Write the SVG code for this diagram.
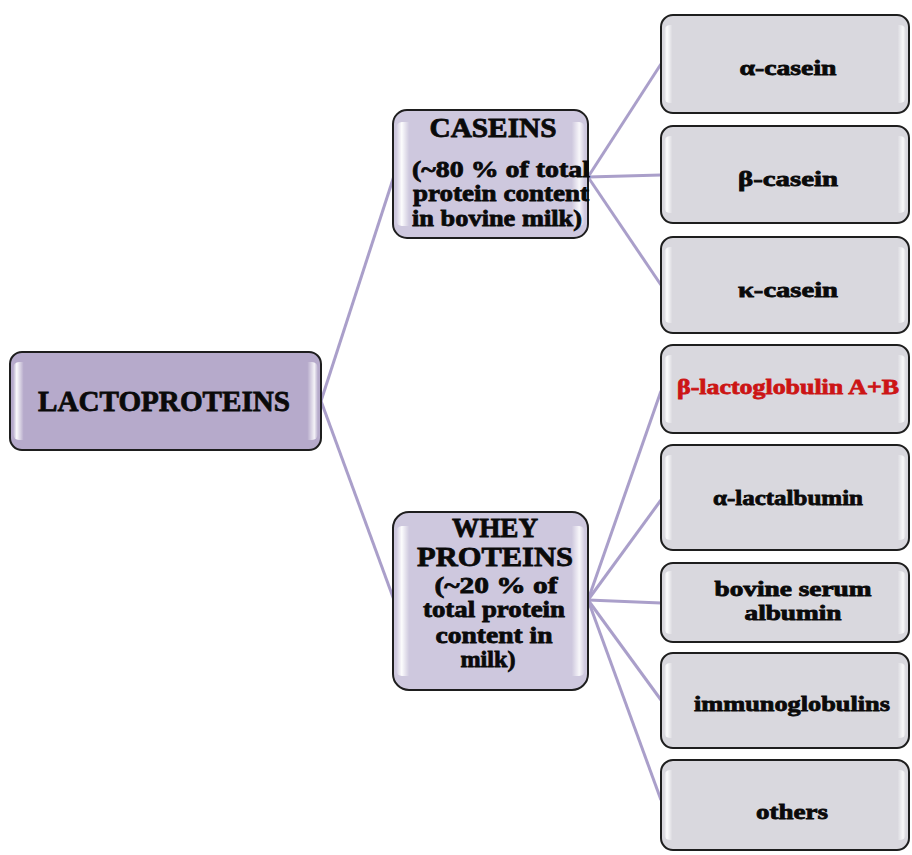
<svg xmlns="http://www.w3.org/2000/svg" width="912" height="855" viewBox="0 0 912 855">
<defs>
<linearGradient id="gloss" x1="0" y1="0" x2="1" y2="0">
<stop offset="0" stop-color="#fff" stop-opacity="0"/>
<stop offset="0.012" stop-color="#fff" stop-opacity="0.95"/>
<stop offset="0.035" stop-color="#fff" stop-opacity="0"/>
<stop offset="0.965" stop-color="#fff" stop-opacity="0"/>
<stop offset="0.988" stop-color="#fff" stop-opacity="0.85"/>
<stop offset="1" stop-color="#fff" stop-opacity="0"/>
</linearGradient>
<linearGradient id="glossS" x1="0" y1="0" x2="1" y2="0">
<stop offset="0" stop-color="#fff" stop-opacity="0"/>
<stop offset="0.03" stop-color="#fff" stop-opacity="0.95"/>
<stop offset="0.07" stop-color="#fff" stop-opacity="0"/>
<stop offset="0.93" stop-color="#fff" stop-opacity="0"/>
<stop offset="0.97" stop-color="#fff" stop-opacity="0.85"/>
<stop offset="1" stop-color="#fff" stop-opacity="0"/>
</linearGradient>
</defs>
<style>
.box{stroke:#1e1e1e;stroke-width:2}
.root{fill:#b6aacb}
.mid{fill:#cec8de}
.leaf{fill:#d9d8de}
.gl{fill:url(#gloss);stroke:none}
.gls{fill:url(#glossS);stroke:none}
text{font-family:"Liberation Serif","DejaVu Serif",serif;font-weight:bold;fill:#0a0a0a;text-anchor:middle;stroke:#0a0a0a;stroke-width:0.8}
.red{fill:#cc1515;stroke:#cc1515}
.con{stroke:#aa9fca;stroke-width:3;fill:none}
</style>
<rect width="912" height="855" fill="#fff"/>
<g id="connectors">
<line class="con" x1="321" y1="401" x2="394" y2="176"/>
<line class="con" x1="321" y1="401" x2="394" y2="600"/>
<line class="con" x1="588" y1="177" x2="661" y2="64"/>
<line class="con" x1="588" y1="177" x2="661" y2="175"/>
<line class="con" x1="588" y1="177" x2="661" y2="285"/>
<line class="con" x1="588" y1="600" x2="661" y2="391"/>
<line class="con" x1="588" y1="600" x2="661" y2="500"/>
<line class="con" x1="588" y1="600" x2="661" y2="603"/>
<line class="con" x1="588" y1="600" x2="661" y2="700"/>
<line class="con" x1="588" y1="600" x2="661" y2="800"/>
</g>
<g id="lactoproteins">
<rect class="box root" x="10" y="352" width="311" height="98" rx="12"/>
<rect class="gl" x="13" y="362" width="305" height="78" rx="6"/>
<text x="164" y="411" font-size="30" textLength="252" lengthAdjust="spacingAndGlyphs">LACTOPROTEINS</text>
</g>
<g id="caseins">
<rect class="box mid" x="393" y="110" width="195" height="128" rx="14"/>
<rect class="gls" x="396" y="122" width="189" height="104" rx="6"/>
<text x="493" y="137" font-size="27" textLength="127" lengthAdjust="spacingAndGlyphs">CASEINS</text>
<text x="501" y="177" font-size="24" textLength="178" lengthAdjust="spacingAndGlyphs">(~80 % of total</text>
<text x="501" y="201" font-size="24" textLength="176" lengthAdjust="spacingAndGlyphs">protein content</text>
<text x="497" y="226" font-size="24" textLength="170" lengthAdjust="spacingAndGlyphs">in bovine milk)</text>
</g>
<g id="whey">
<rect class="box mid" x="393" y="512" width="195" height="178" rx="16"/>
<rect class="gls" x="396" y="526" width="189" height="150" rx="6"/>
<text x="495" y="537" font-size="28" textLength="86" lengthAdjust="spacingAndGlyphs">WHEY</text>
<text x="495" y="566" font-size="28" textLength="156" lengthAdjust="spacingAndGlyphs">PROTEINS</text>
<text x="496" y="593" font-size="24" textLength="123" lengthAdjust="spacingAndGlyphs">(~20 % of</text>
<text x="494" y="617" font-size="24" textLength="142" lengthAdjust="spacingAndGlyphs">total protein</text>
<text x="494" y="643" font-size="24" textLength="117" lengthAdjust="spacingAndGlyphs">content in</text>
<text x="488" y="667" font-size="24" textLength="55" lengthAdjust="spacingAndGlyphs">milk)</text>
</g>
<g id="alpha-casein">
<rect class="box leaf" x="661" y="15" width="248" height="98" rx="12"/>
<rect class="gl" x="664" y="25" width="242" height="78" rx="6"/>
<text x="788" y="75" font-size="22" textLength="97" lengthAdjust="spacingAndGlyphs">α-casein</text>
</g>
<g id="beta-casein">
<rect class="box leaf" x="661" y="126" width="248" height="97" rx="12"/>
<rect class="gl" x="664" y="136" width="242" height="77" rx="6"/>
<text x="788" y="186" font-size="22" textLength="100" lengthAdjust="spacingAndGlyphs">β-casein</text>
</g>
<g id="kappa-casein">
<rect class="box leaf" x="661" y="237" width="248" height="96" rx="12"/>
<rect class="gl" x="664" y="247" width="242" height="76" rx="6"/>
<text x="788" y="297" font-size="22" textLength="100" lengthAdjust="spacingAndGlyphs">κ-casein</text>
</g>
<g id="beta-lactoglobulin">
<rect class="box leaf" x="661" y="345" width="248" height="88" rx="12"/>
<rect class="gl" x="664" y="355" width="242" height="68" rx="6"/>
<text class="red" x="788" y="394" font-size="22" textLength="222" lengthAdjust="spacingAndGlyphs">β-lactoglobulin A+B</text>
</g>
<g id="alpha-lactalbumin">
<rect class="box leaf" x="661" y="445" width="248" height="105" rx="12"/>
<rect class="gl" x="664" y="455" width="242" height="85" rx="6"/>
<text x="788" y="505" font-size="22" textLength="150" lengthAdjust="spacingAndGlyphs">α-lactalbumin</text>
</g>
<g id="bovine-serum-albumin">
<rect class="box leaf" x="661" y="563" width="248" height="79" rx="12"/>
<rect class="gl" x="664" y="571" width="242" height="63" rx="6"/>
<text x="793" y="596" font-size="20" textLength="157" lengthAdjust="spacingAndGlyphs">bovine serum</text>
<text x="793" y="620" font-size="20" textLength="97" lengthAdjust="spacingAndGlyphs">albumin</text>
</g>
<g id="immunoglobulins">
<rect class="box leaf" x="661" y="653" width="248" height="95" rx="12"/>
<rect class="gl" x="664" y="663" width="242" height="75" rx="6"/>
<text x="792" y="711" font-size="22" textLength="196" lengthAdjust="spacingAndGlyphs">immunoglobulins</text>
</g>
<g id="others">
<rect class="box leaf" x="661" y="760" width="248" height="90" rx="12"/>
<rect class="gl" x="664" y="770" width="242" height="70" rx="6"/>
<text x="792" y="819" font-size="22" textLength="72" lengthAdjust="spacingAndGlyphs">others</text>
</g>
</svg>
